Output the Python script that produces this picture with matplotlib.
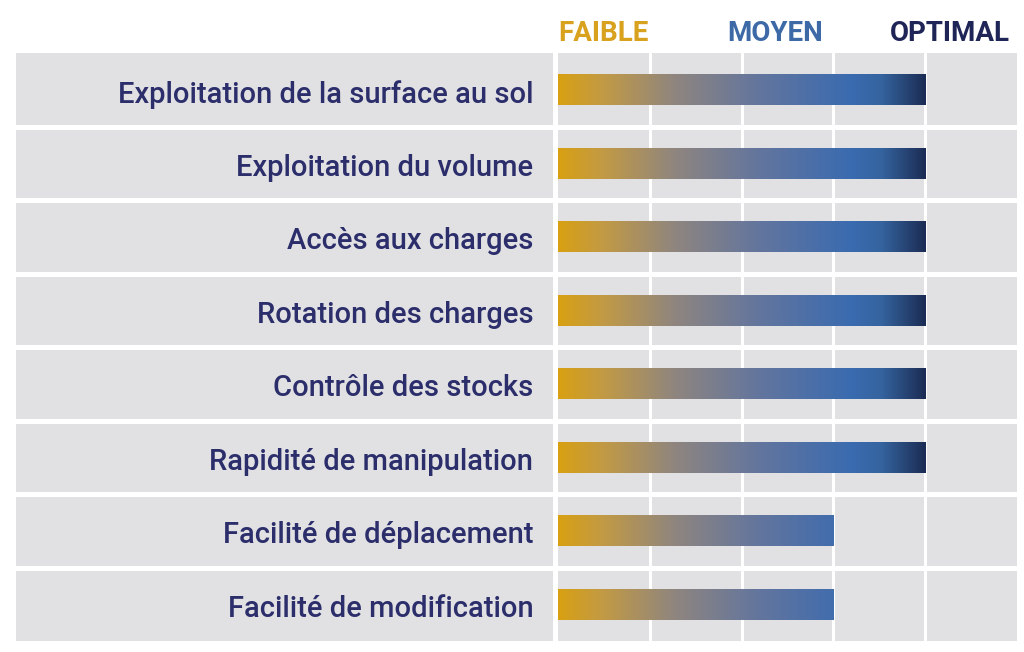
import matplotlib
matplotlib.use('Agg')
import matplotlib.pyplot as plt
import numpy as np
from matplotlib.colors import LinearSegmentedColormap

# data
criteres = ['Exploitation de la surface au sol', 'Exploitation du volume',
            'Accès aux charges', 'Rotation des charges', 'Contrôle des stocks',
            'Rapidité de manipulation', 'Facilité de déplacement',
            'Facilité de modification']
niveaux = [4, 4, 4, 4, 4, 4, 3, 3]
entetes = ['FAIBLE', 'MOYEN', 'OPTIMAL']
entete_pos = [0.49, 2.37, 4.27]
n_cols = 5

plt.rcParams['font.family'] = ['Roboto', 'DejaVu Sans']

grey = '#e1e1e3'
txt = '#2b2e6b'
cmap = LinearSegmentedColormap.from_list('grad', [
    (0.0, '#d8a012'), (0.12, '#c29a45'), (0.32, '#8e8580'),
    (0.55, '#62759e'), (0.8, '#3a6bb0'), (0.88, '#35649f'), (1.0, '#1c2d55')])

W, H = 1024, 652
fig = plt.figure(figsize=(W / 100, H / 100), dpi=100)
top, bot = 53, 641
n = len(criteres)

# label column
axl = fig.add_axes([16 / W, 1 - bot / H, (553 - 16) / W, (bot - top) / H])
# bar area
axb = fig.add_axes([558 / W, 1 - bot / H, (1017 - 558) / W, (bot - top) / H])

for ax in (axl, axb):
    ax.set_facecolor(grey)
    ax.set_ylim(n - 0.5, -0.5)
    for s in ax.spines.values():
        s.set_visible(False)
    ax.set_xticks([])
    ax.set_yticks([])
    for i in range(n - 1):
        ax.axhline(i + 0.5, color='white', lw=5 * 0.72, zorder=1)

axl.set_xlim(0, 1)
for i, c in enumerate(criteres):
    axl.text(0.963, i + 0.06, c, ha='right', va='center', color=txt,
             fontsize=21, fontweight='medium')

axb.set_xlim(0, n_cols)
for k in range(1, n_cols):
    axb.axvline(k, color='white', lw=3 * 0.72, zorder=1)

bh = 31 / 74.0
xs = np.linspace(0, 4, 400)
for i, v in enumerate(niveaux):
    xv = xs[xs <= v]
    img = cmap(xv / 4.0)[np.newaxis, :, :]
    axb.imshow(img, extent=(0, v, i + bh / 2, i - bh / 2), aspect='auto',
               interpolation='bilinear', zorder=2)
axb.set_xlim(0, n_cols)
axb.set_ylim(n - 0.5, -0.5)

head_cols = ['#d9a21e', '#3d6aa6', '#1f2657']
for h, x, c in zip(entetes, entete_pos, head_cols):
    axb.text(x, -0.5 - 20 / 74.0, h, ha='center', va='center', color=c,
             fontsize=20, fontweight='bold', clip_on=False)

fig.savefig('out.png', dpi=100, facecolor='white')
